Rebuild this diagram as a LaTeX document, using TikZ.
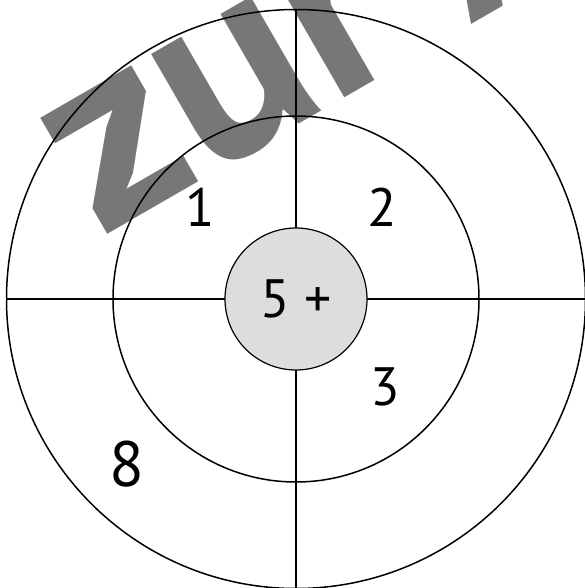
\documentclass[tikz,border=0pt]{standalone}
\usepackage{fontspec}
\setmainfont{PT Sans}
\definecolor{wmgray}{HTML}{787677}
\definecolor{bullfill}{HTML}{DCDDDF}
\tikzset{
  ring/.style={draw=black, line width=1.5pt},
  cross/.style={draw=black, line width=2pt},
  num/.style={font=\fontsize{54}{54}\selectfont, inner sep=0pt},
  bignum/.style={font=\fontsize{64}{64}\selectfont, inner sep=0pt},
}
\begin{document}
\begin{tikzpicture}[x=1pt,y=-1pt]
\useasboundingbox (0,0) rectangle (585,588);
\clip (0,0) rectangle (585,588);
% watermark
\node[anchor=base west, rotate=30, inner sep=0pt, text=wmgray,
      font=\bfseries\fontsize{268}{268}\selectfont] (wm) at (100,239) {zur Ansicht};
% target
\coordinate (c) at (296,299);
\coordinate (L) at (6,299);
\coordinate (R) at (590,299);
\coordinate (T) at (296,9);
\coordinate (B) at (296,592);
\draw[ring] (c) circle[radius=289.5];
\draw[ring] (c) circle[radius=183];
\draw[cross] (L) -- (R);
\draw[cross] (T) -- (B);
\node[circle, draw=black, line width=1.2pt, fill=bullfill, minimum size=142pt, inner sep=0pt] (bull) at (c) {};
\node[num] (n5) at (296.5,299) {5 +};
\node[num] (n1) at (200,207) {1};
\node[num] (n2) at (382,207) {2};
\node[num] (n3) at (385.5,387) {3};
\node[bignum] (n8) at (127,464) {8};
\end{tikzpicture}
\end{document}
